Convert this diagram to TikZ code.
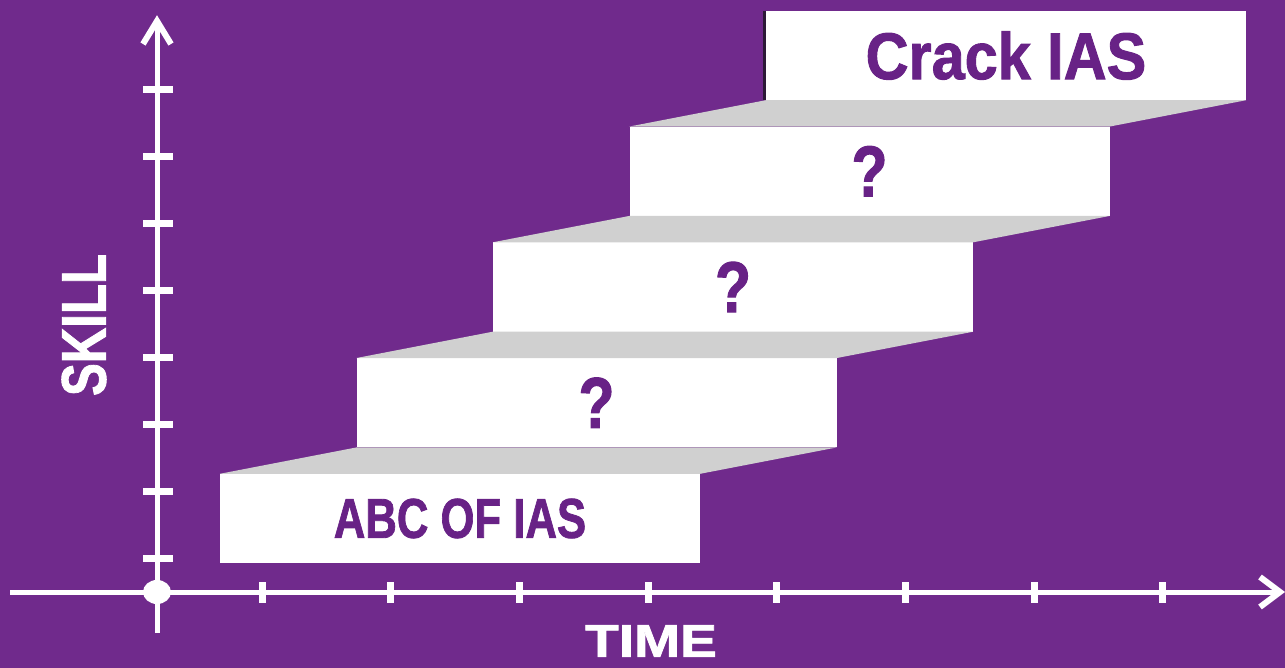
\documentclass[tikz,border=0pt]{standalone}
\usepackage{fontspec}
\setmainfont{Liberation Sans}
\newfontfamily\heavyfont[BoldFeatures={FakeBold=1.5}]{Liberation Sans}
\definecolor{bgpurple}{RGB}{112,42,140}
\definecolor{txtpurple}{RGB}{104,34,134}
\definecolor{treadgray}{RGB}{208,208,208}
\definecolor{edgedark}{RGB}{45,25,55}
\tikzset{
  axisline/.style={draw=white, line width=5pt},
  tickmark/.style={draw=white, line width=7pt},
  chevron/.style={draw=white, line width=6pt, line join=miter},
  stepbox/.style={fill=white, minimum width=480pt, minimum height=89pt, inner sep=0pt, text=txtpurple},
  tread/.style={fill=treadgray},
  axislabel/.style={text=white, inner sep=0pt},
}
\begin{document}
\begin{tikzpicture}[x=1pt,y=-1pt]
\useasboundingbox (0,0) rectangle (1285,668);
\fill[bgpurple] (0,0) rectangle (1285,668);
% axes
\coordinate (O) at (157,592);
\coordinate (ybot) at (157,633);
\coordinate (ytop) at (157,21);
\coordinate (xleft) at (10,592);
\coordinate (xright) at (1280,592);
\draw[axisline] (ybot) -- (ytop);
\draw[axisline] (xleft) -- (xright);
\draw[chevron] ([shift={(-14,23)}]ytop) -- (ytop) -- ([shift={(14,23)}]ytop);
\draw[chevron] ([shift={(-20,-15)}]xright) -- (xright) -- ([shift={(-20,15)}]xright);
\foreach \k in {0,...,7}{
  \draw[tickmark] (143,{558-66.857*\k}) -- (173,{558-66.857*\k});
  \draw[tickmark] ({262+128.7*\k},582) -- ({262+128.7*\k},603);
}
\fill[white] (O) ellipse [x radius=14pt, y radius=12pt];
% labels
\node[axislabel, rotate=90, font=\fontsize{63}{63}\selectfont\heavyfont\bfseries] (skill) at (84,325) {\scalebox{0.78}[1]{SKILL}};
\node[axislabel, font=\fontsize{46}{46}\selectfont\heavyfont\bfseries] (time) at (651,641) {\scalebox{1.2}[1]{TIME}};
% steps
\node[stepbox, font=\fontsize{56}{56}\selectfont\heavyfont\bfseries] (s0) at (460,518.5) {\scalebox{0.78}[1]{ABC OF IAS}};
\node[stepbox, font=\fontsize{72}{72}\selectfont\heavyfont\bfseries] (s1) at (596.5,402.75) {\scalebox{0.82}[1]{?}};
\node[stepbox, font=\fontsize{72}{72}\selectfont\heavyfont\bfseries] (s2) at (733,287) {\scalebox{0.82}[1]{?}};
\node[stepbox, font=\fontsize{72}{72}\selectfont\heavyfont\bfseries] (s3) at (869.5,171.25) {\scalebox{0.82}[1]{?}};
\node[stepbox, font=\fontsize{66}{66}\selectfont\heavyfont\bfseries] (s4) at (1006,55.5) {\scalebox{0.9}[1]{Crack IAS}};
% treads
\foreach \a/\b in {s0/s1,s1/s2,s2/s3,s3/s4}{
  \fill[tread] (\a.north west) -- (\a.north east) -- (\b.south east) -- (\b.south west) -- cycle;
}
\draw[edgedark, line width=3pt] ([xshift=-1.5pt]s4.north west) -- ([xshift=-1.5pt]s4.south west);
\end{tikzpicture}
\end{document}
